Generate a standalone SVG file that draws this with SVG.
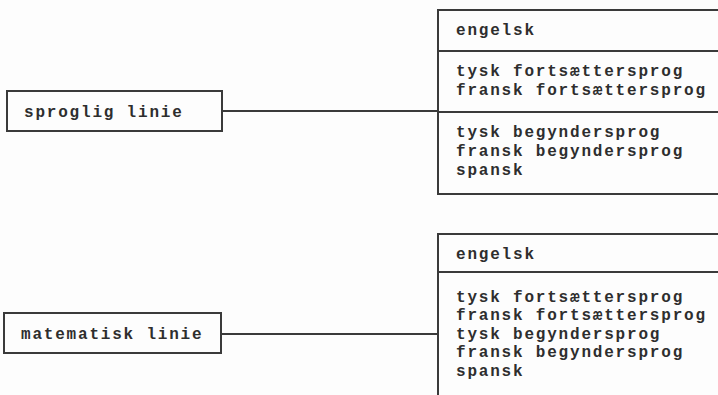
<svg xmlns="http://www.w3.org/2000/svg" width="718" height="395" viewBox="0 0 718 395">
<style>
.box{fill:none;stroke:#3a3a3a;stroke-width:2}
.ln{stroke:#3a3a3a;stroke-width:2;fill:none}
text{font-family:"Liberation Mono","Courier New",monospace;font-size:16px;letter-spacing:1.8px;font-weight:bold;fill:#2e2e2e}
</style>
<rect width="718" height="395" fill="#fdfdfd"/>
<g id="sproglig">
<rect class="box" x="7" y="91" width="215" height="40"/>
<text x="24" y="117">sproglig linie</text>
</g>
<g id="matematisk">
<rect class="box" x="4" y="313" width="217" height="40"/>
<text x="21" y="339">matematisk linie</text>
</g>
<g id="fag1">
<path class="ln" d="M718,10 H438 V194 H718 M438,51 H718 M438,112 H718"/>
<text x="456" y="35">engelsk</text>
<text x="456" y="76">tysk fortsættersprog</text>
<text x="456" y="95">fransk fortsættersprog</text>
<text x="456" y="137">tysk begyndersprog</text>
<text x="456" y="156">fransk begyndersprog</text>
<text x="456" y="175">spansk</text>
</g>
<g id="fag2">
<path class="ln" d="M718,234 H438 V395 M438,272 H718"/>
<text x="456" y="259">engelsk</text>
<text x="456" y="302">tysk fortsættersprog</text>
<text x="456" y="320">fransk fortsættersprog</text>
<text x="456" y="339">tysk begyndersprog</text>
<text x="456" y="357">fransk begyndersprog</text>
<text x="456" y="376">spansk</text>
</g>
<g id="connectors">
<line class="ln" x1="222" y1="111" x2="438" y2="111"/>
<line class="ln" x1="221" y1="334" x2="438" y2="334"/>
</g>
</svg>
